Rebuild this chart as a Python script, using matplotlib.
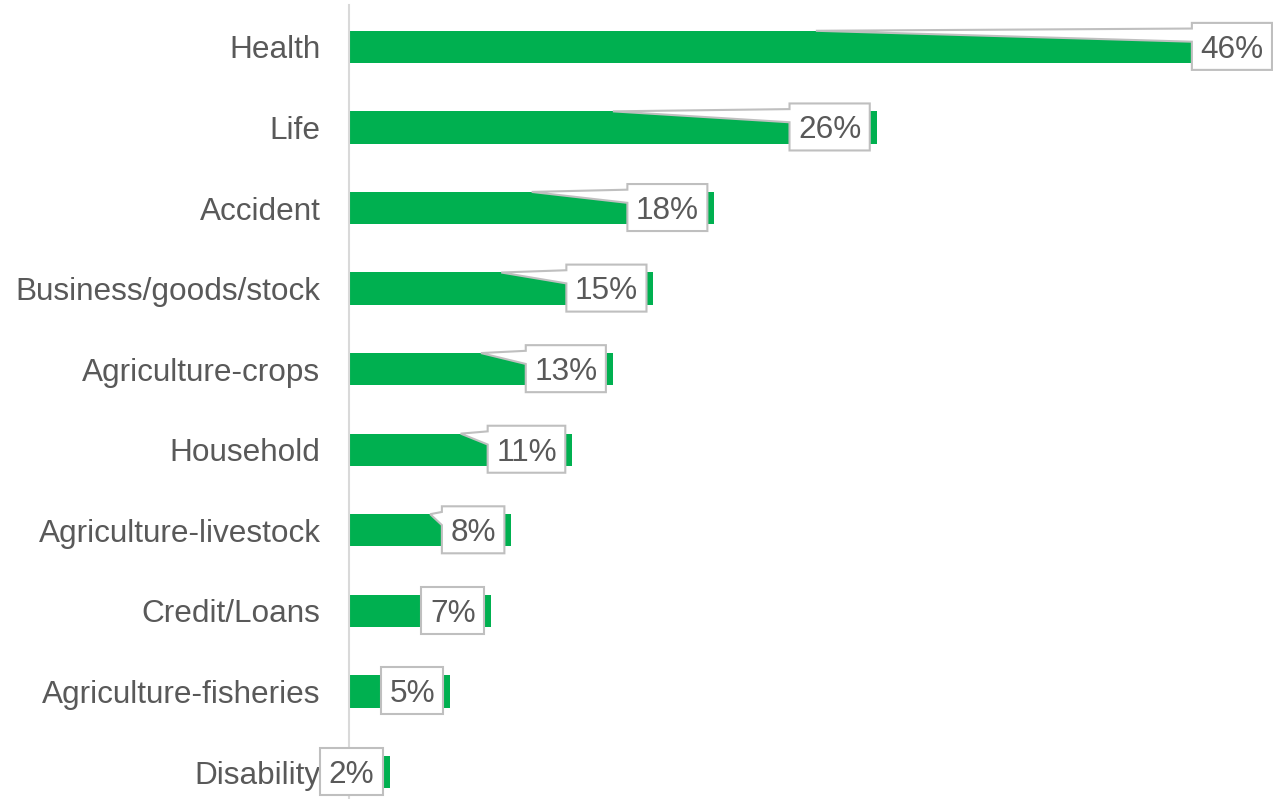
import numpy as np
import matplotlib.pyplot as plt
from matplotlib.patches import Polygon
from matplotlib.transforms import IdentityTransform

plt.rcParams['font.family'] = ['Liberation Sans', 'DejaVu Sans']

# insurance types and share of respondents (%)
categories = ['Health', 'Life', 'Accident', 'Business/goods/stock', 'Agriculture-crops',
              'Household', 'Agriculture-livestock', 'Credit/Loans', 'Agriculture-fisheries',
              'Disability']
shares = [46, 26, 18, 15, 13, 11, 8, 7, 5, 2]

green = '#00B050'
grey_txt = '#595959'
box_edge = '#BFBFBF'
fs = 22.7

W, H = 1273, 799
fig = plt.figure(figsize=(W / 100, H / 100), dpi=100)
ax = fig.add_axes([349 / W, 0, 1 - 349 / W, 794 / H])

ypos = np.arange(len(categories))
bar_h = 0.4
ax.barh(ypos, shares, height=bar_h, color=green, zorder=2)

ax.set_xlim(0, 45.52)
ax.set_ylim(9.335, -0.52)
ax.set_yticks(ypos)
ax.set_yticklabels(categories, fontsize=fs, color=grey_txt)
ax.tick_params(axis='y', length=0, pad=20.5)
ax.set_xticks([])
for s in ['top', 'right', 'bottom']:
    ax.spines[s].set_visible(False)
ax.spines['left'].set_color('#D9D9D9')
ax.spines['left'].set_linewidth(1.5)

# callout labels: white box at the bar end with a pointer to the bar middle
fig.canvas.draw()
renderer = fig.canvas.get_renderer()
cap_h = 0.716 * fs * 100 / 72
for y, v in zip(ypos, shares):
    end_px, cy = ax.transData.transform((v, y))
    tip_x, _ = ax.transData.transform((v / 2, y))
    _, top_bar = ax.transData.transform((0, y - bar_h / 2))
    txt = ax.text(0, 0, f'{v}%', fontsize=fs, color=grey_txt,
                  ha='center', va='baseline', transform=IdentityTransform(), zorder=5)
    tw = txt.get_window_extent(renderer).width
    bw, bh = tw + 17, 47
    R = min(end_px - 7, W - 1)
    L = R - bw
    T = cy + bh / 2 + 0.5
    B = T - bh
    txt.set_position(((L + R) / 2, (T + B) / 2 - cap_h / 2))
    pts = [(L, T), (R, T), (R, B), (L, B)]
    if tip_x < L - 2:
        pts += [(L, T - 0.4 * bh), (tip_x, top_bar), (L, T - 0.12 * bh)]
    ax.add_patch(Polygon(pts, closed=True, facecolor='white', edgecolor=box_edge,
                         linewidth=1.5, transform=IdentityTransform(), zorder=4,
                         clip_on=False))

fig.savefig('out.png', dpi=100)
